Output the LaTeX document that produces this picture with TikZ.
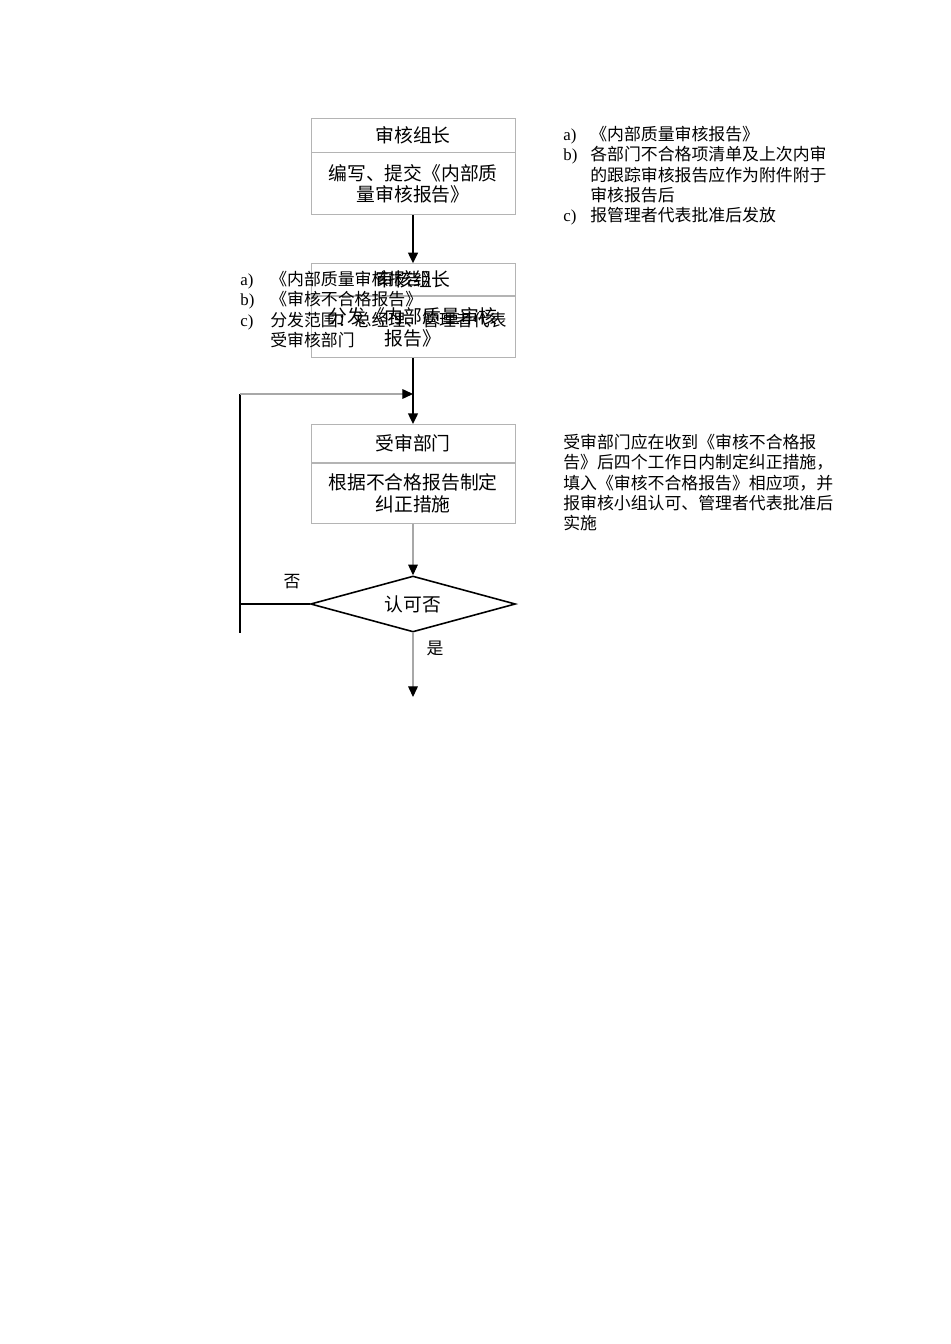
\documentclass[tikz,border=0pt]{standalone}
\usepackage{fontspec}
\setmainfont{Liberation Serif}
\newfontfamily\cjk{Noto Sans CJK SC}
\usetikzlibrary{shapes.geometric, arrows.meta, positioning}
\definecolor{BoxGray}{HTML}{B4B4B4}
\definecolor{LineGray}{HTML}{A8A8A8}
\newcommand{\boxfont}{\cjk\fontsize{10.7}{12.5}\selectfont}
\newcommand{\notefont}{\cjk\fontsize{9.6}{11.5}\selectfont\lineskiplimit=-20pt}
\newcommand{\labfont}{\fontsize{9.6}{11.5}\selectfont\lineskiplimit=-20pt}
\newcommand{\cjkrow}{\vphantom{\cjk 内》}}

\begin{document}
\begin{tikzpicture}[x=0.02cm, y=-0.02cm]
    \tikzstyle{stage} = [rectangle, draw=BoxGray, line width=0.5pt, minimum width=4.08cm, inner sep=0pt, align=center, font=\boxfont]
    \tikzstyle{check} = [diamond, draw=black, line width=0.9pt, aspect=3.66, minimum width=4.1cm, minimum height=1.12cm, inner sep=0pt, font=\boxfont]
    \tikzstyle{note} = [inner sep=0pt, anchor=north west, align=left, font=\notefont]
    \tikzstyle{lab} = [inner sep=0pt, anchor=north west, align=left, font=\labfont]
    \tikzstyle{flow} = [black, line width=1.1pt, -{Triangle[length=6pt, width=5.5pt]}]
    \tikzstyle{pale} = [LineGray, line width=0.6pt, -{Triangle[length=6pt, width=5.5pt, color=black]}]

    \useasboundingbox (0,0) rectangle (950,1344);

    \node [stage, minimum height=0.68cm] (head1) at (413,135) {审核组长};
    \node [stage, minimum height=1.24cm, below=0pt of head1] (body1) {编写、提交《内部质\\量审核报告》};
    \node [stage, minimum height=0.64cm, below=0.96cm of body1] (head2) {审核组长};
    \node [stage, minimum height=1.22cm, below=0pt of head2] (body2) {分发《内部质量审核\\报告》};
    \node [stage, minimum height=0.76cm, below=1.32cm of body2] (head3) {受审部门};
    \node [stage, minimum height=1.2cm, below=0pt of head3] (body3) {根据不合格报告制定\\纠正措施};
    \node [check] (ok) at (413,604) {认可否};

    \node [lab] (rlab) at (563,126) {\cjkrow a)\\b)\\\mbox{}\\\mbox{}\\c)};
    \node [note] (rnote) at (590,126) {\cjkrow《内部质量审核报告》\\各部门不合格项清单及上次内审\\的跟踪审核报告应作为附件附于\\审核报告后\\报管理者代表批准后发放};

    \node [lab] (llab) at (240,271) {\cjkrow a)\\b)\\c)};
    \node [note] (lnote) at (270,271) {\cjkrow《内部质量审核报告》\\《审核不合格报告》\\分发范围：总经理、管理者代表\\受审核部门};

    \node [note] (fix) at (563,434) {\cjkrow 受审部门应在收到《审核不合格报\\告》后四个工作日内制定纠正措施，\\填入《审核不合格报告》相应项，并\\报审核小组认可、管理者代表批准后\\实施};

    \node [font=\notefont] (no) at (292,582) {否};
    \node [font=\notefont] (yes) at (435,648) {是};

    \coordinate (loopTop) at (240,394);
    \coordinate (loopBot) at (240,633);
    \coordinate (joint) at (body2.south |- loopTop);
    \coordinate (yesEnd) at (413,697);

    \draw [flow] (body1) -- (head2);
    \draw [flow] (body2) -- (head3);
    \draw [pale] (body3) -- (ok);
    \draw [pale] (ok) -- (yesEnd);
    \draw [black, line width=0.9pt] (ok.west) -- (ok.west -| loopTop);
    \draw [black, line width=1.3pt] (loopTop) -- (loopBot);
    \draw [pale] (loopTop) -- (joint);
\end{tikzpicture}
\end{document}
